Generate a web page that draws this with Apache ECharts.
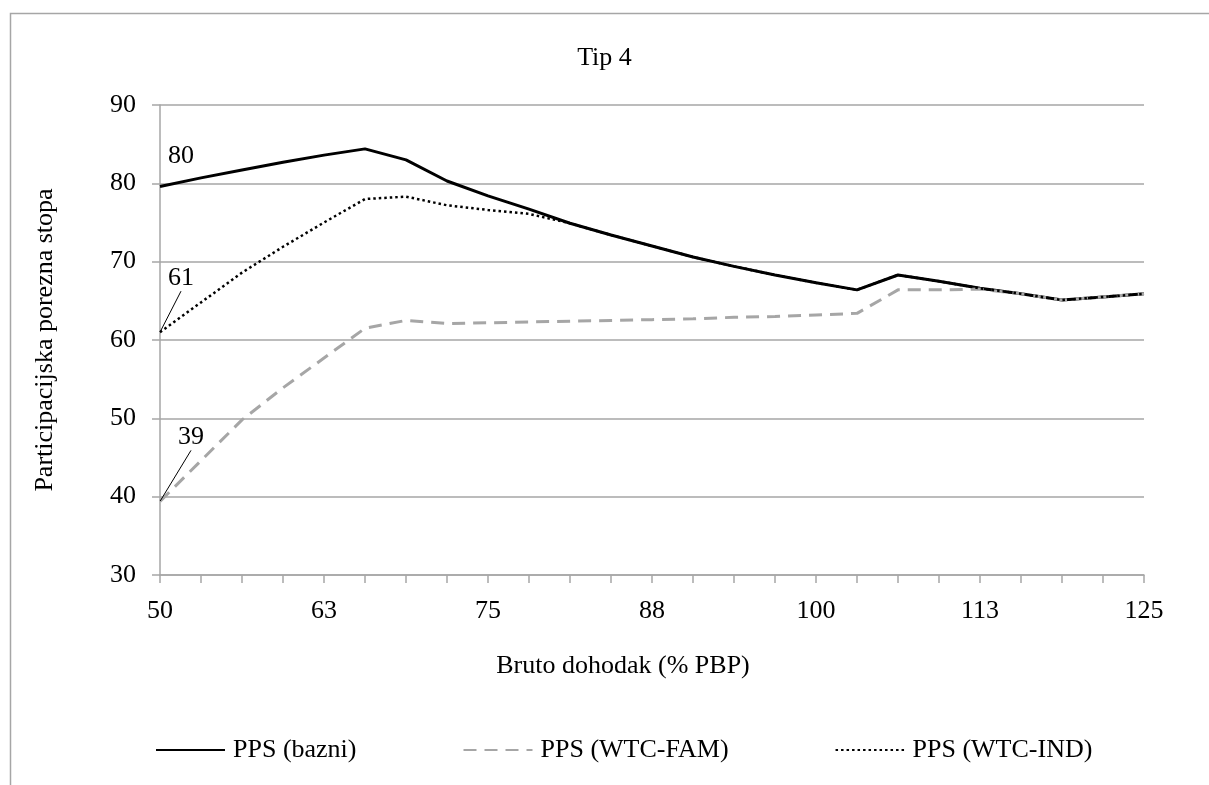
<!DOCTYPE html>
<html>
<head>
<meta charset="utf-8">
<script src="https://cdn.jsdelivr.net/npm/echarts@6/dist/echarts.min.js"></script>
<style>
html,body{margin:0;padding:0;background:#fff;}
#chart{width:1209px;height:785px;}
</style>
</head>
<body>
<div id="chart"></div>
<script>
const titleText = 'Tip 4';
const xAxisName = 'Bruto dohodak (% PBP)';
const yAxisName = 'Participacijska porezna stopa';
const categories = ['50','53.125','56.25','59.375','62.5','65.625','68.75','71.875','75','78.125','81.25','84.375','87.5','90.625','93.75','96.875','100','103.125','106.25','109.375','112.5','115.625','118.75','121.875','125'];
const seriesNames = ['PPS (bazni)', 'PPS (WTC-FAM)', 'PPS (WTC-IND)'];
const ppsBazni  = [79.6, 80.7, 81.7, 82.7, 83.6, 84.4, 83.0, 80.3, 78.4, 76.7, 74.9, 73.4, 72.0, 70.6, 69.4, 68.3, 67.3, 66.4, 68.3, 67.5, 66.6, 65.9, 65.1, 65.5, 65.9];
const ppsWtcFam = [39.4, 44.6, 49.8, 53.9, 57.7, 61.5, 62.5, 62.1, 62.2, 62.3, 62.4, 62.5, 62.6, 62.7, 62.9, 63.0, 63.2, 63.4, 66.4, 66.4, 66.5, 65.9, 65.1, 65.5, 65.9];
const ppsWtcInd = [61.0, 64.8, 68.6, 71.9, 75.0, 78.0, 78.3, 77.2, 76.6, 76.1, 74.9, 73.4, 72.0, 70.6, 69.4, 68.3, 67.3, 66.4, 68.3, 67.5, 66.6, 65.9, 65.1, 65.5, 65.9];
const firstLabels = ['80', '39', '61'];

const FONT = 'Liberation Serif';
const FS = 26;
const GRID = '#a6a6a6';

function buildData(values, labelText) {
  return values.map(function (v, i) {
    if (i !== 0) return v;
    return {
      value: v,
      symbol: 'circle',
      symbolSize: 1,
      itemStyle: { color: 'rgba(0,0,0,0)', borderWidth: 0 },
      label: {
        show: true,
        position: 'inside',
        formatter: labelText,
        fontFamily: FONT,
        fontSize: FS,
        color: '#000'
      }
    };
  });
}

function firstLayout(dx, dy) {
  return function (params) {
    return params.dataIndex === 0 ? { dx: dx, dy: dy } : {};
  };
}

const chart = echarts.init(document.getElementById('chart'), null, { renderer: 'canvas' });
chart.setOption({
  animation: false,
  backgroundColor: '#fff',
  graphic: [{
    type: 'rect',
    shape: { x: 10.5, y: 13.5, width: 1400, height: 1000 },
    style: { fill: 'none', stroke: '#a6a6a6', lineWidth: 1.5 },
    silent: true
  }],
  title: {
    text: titleText,
    left: 'center',
    top: 40,
    textStyle: { fontFamily: FONT, fontSize: FS, fontWeight: 'normal', color: '#000' }
  },
  grid: { left: 160, right: 65, top: 105, bottom: 210, containLabel: false },
  legend: {
    bottom: 17,
    left: 150,
    itemWidth: 69,
    itemHeight: 14,
    itemGap: 106,
    itemStyle: { color: 'rgba(0,0,0,0)', borderWidth: 0 },
    textStyle: { fontFamily: FONT, fontSize: FS, color: '#000', padding: [0, 0, 0, 3] },
    data: seriesNames
  },
  xAxis: {
    type: 'category',
    data: categories,
    boundaryGap: false,
    name: xAxisName,
    nameLocation: 'middle',
    nameGap: 78,
    nameTextStyle: { fontFamily: FONT, fontSize: FS, color: '#000', verticalAlign: 'top', padding: [0, 58, 0, 0] },
    axisLine: { lineStyle: { color: GRID, width: 1.5 } },
    axisTick: { show: true, interval: 0, length: 8, lineStyle: { color: GRID, width: 1.5 } },
    axisLabel: {
      interval: 3,
      margin: 23,
      fontFamily: FONT, fontSize: FS, color: '#000',
      formatter: function (v) { return String(Math.round(Number(v))); }
    },
    splitLine: { show: false }
  },
  yAxis: {
    type: 'value',
    min: 30, max: 90, interval: 10,
    name: yAxisName,
    nameLocation: 'middle',
    nameGap: 102,
    nameTextStyle: { fontFamily: FONT, fontSize: FS, color: '#000' },
    axisLine: { show: true, lineStyle: { color: GRID, width: 1.5 } },
    axisTick: { show: true, length: 8, lineStyle: { color: GRID, width: 1.5 } },
    axisLabel: { margin: 24, fontFamily: FONT, fontSize: FS, color: '#000' },
    splitLine: { show: true, lineStyle: { color: GRID, width: 1.5 } }
  },
  series: [
    {
      name: seriesNames[0], type: 'line', symbol: 'none',
      lineStyle: { color: '#000', width: 3, type: 'solid' },
      itemStyle: { color: '#000' },
      data: buildData(ppsBazni, firstLabels[0]),
      labelLayout: firstLayout(21, -30),
      labelLine: { show: false },
      z: 2
    },
    {
      name: seriesNames[1], type: 'line', symbol: 'none',
      lineStyle: { color: '#a6a6a6', width: 3, type: [13, 8] },
      itemStyle: { color: '#a6a6a6' },
      data: buildData(ppsWtcFam, firstLabels[1]),
      labelLayout: firstLayout(31, -64),
      labelLine: { show: true, length2: 0, lineStyle: { color: '#000', width: 1 } },
      z: 3
    },
    {
      name: seriesNames[2], type: 'line', symbol: 'none',
      lineStyle: { color: '#000', width: 2.5, type: [2.5, 3] },
      itemStyle: { color: '#000' },
      data: buildData(ppsWtcInd, firstLabels[2]),
      labelLayout: firstLayout(21, -54),
      labelLine: { show: true, length2: 0, lineStyle: { color: '#000', width: 1 } },
      z: 4
    }
  ]
});
</script>
</body>
</html>
